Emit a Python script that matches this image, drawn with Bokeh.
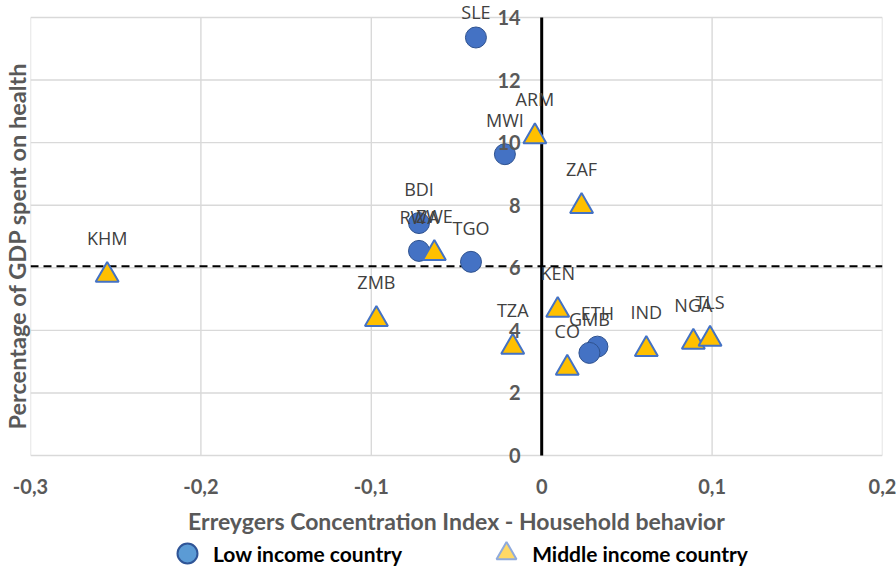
from bokeh.plotting import figure
from bokeh.layouts import column
from bokeh.models import (ColumnDataSource, LabelSet, Range1d, FixedTicker,
                          CustomJSTickFormatter, Legend, LegendItem, Title)
from bokeh.core.properties import value
from bokeh.transform import dodge
from bokeh.embed import file_html
from bokeh.resources import INLINE

# ---------------- data ----------------
low_countries = ["SLE", "MWI", "BDI", "RWA", "TGO", "ETH", "GMB"]
low_ci = [-0.0386, -0.0216, -0.072, -0.072, -0.0415, 0.0327, 0.028]
low_health = [13.36, 9.63, 7.43, 6.54, 6.19, 3.48, 3.28]

mid_countries = ["ARM", "ZAF", "ZWE", "KHM", "ZMB", "KEN", "TZA", "CO", "IND", "NGA", "TLS"]
mid_ci = [-0.004, 0.0234, -0.063, -0.255, -0.097, 0.0094, -0.017, 0.015, 0.0614, 0.089, 0.0988]
mid_health = [10.3, 8.07, 6.57, 5.87, 4.46, 4.75, 3.57, 2.9, 3.5, 3.73, 3.83]

health_reference = 6.05

x_ticks = [-0.3, -0.2, -0.1, 0.0, 0.1, 0.2]
y_ticks = [0, 2, 4, 6, 8, 10, 12, 14]
y_tick_labels = ["0", "2", "4", "6", "8", "10", "12", "14"]
x_title = "Erreygers Concentration Index - Household behavior"
y_title = "Percentage of GDP spent on health"
legend_labels = ["Low income country", "Middle income country"]

# ---------------- geometry ----------------
W = 896
H_MAIN, H_LEG = 537, 34
PLOT_TOP, PLOT_BOTTOM = 17, 456          # pixel rows of y = 14 and y = 0
FRAME_BOTTOM = 467                       # frame extends a little below y = 0
LEFT, RIGHT = 27, 14
ppu = (PLOT_BOTTOM - PLOT_TOP) / (y_ticks[-1] - y_ticks[0])
y_max = y_ticks[-1] + PLOT_TOP / ppu
y_min = y_ticks[0] - (FRAME_BOTTOM - PLOT_BOTTOM) / ppu
LABEL_OFF = 34
LABEL_MIN_Y = 12
TRI_SIZE = 23
# Bokeh's triangle is centred on its centroid, Excel's on its bounding box
tri_shift = -(TRI_SIZE / 2) * 3 ** 0.5 / 6 / ppu


def offsets(vals):
    # Excel keeps the data labels inside the chart area
    out = []
    for v in vals:
        sy = PLOT_TOP + (y_ticks[-1] - v) * ppu
        out.append(min(LABEL_OFF, sy - LABEL_MIN_Y))
    return out


GRID = "#D9D9D9"
TXT = "#595959"

p = figure(width=W, height=H_MAIN, output_backend="svg", toolbar_location=None,
           x_range=Range1d(x_ticks[0], x_ticks[-1]), y_range=Range1d(y_min, y_max),
           min_border_left=LEFT, min_border_right=RIGHT, min_border_top=0,
           min_border_bottom=H_MAIN - FRAME_BOTTOM)
p.background_fill_color = "white"
p.border_fill_color = "white"
p.outline_line_color = None
p.xgrid.visible = False
p.ygrid.visible = False
p.yaxis.visible = False

# x axis (tick labels + title)
p.xaxis.ticker = FixedTicker(ticks=x_ticks)
p.xaxis.formatter = CustomJSTickFormatter(
    code="return (Math.round(tick*10)/10).toString().replace('.', ',');")
p.xaxis.axis_line_color = None
p.xaxis.major_tick_line_color = None
p.xaxis.minor_tick_line_color = None
p.xaxis.major_tick_out = 0
p.xaxis.major_tick_in = 0
p.xaxis.major_label_standoff = 12
p.xaxis.major_label_text_font = "Lato"
p.xaxis.major_label_text_font_style = "bold"
p.xaxis.major_label_text_font_size = "20px"
p.xaxis.major_label_text_color = TXT
p.xaxis.axis_label = x_title
p.xaxis.axis_label_text_font = "Lato"
p.xaxis.axis_label_text_font_style = "bold"
p.xaxis.axis_label_text_font_size = "23px"
p.xaxis.axis_label_text_color = TXT
p.xaxis.axis_label_standoff = 10

# y axis title
p.add_layout(Title(text=y_title, align="left", offset=37, text_font="Lato",
                   text_font_style="bold", text_font_size="23.5px",
                   text_color=TXT, standoff=0), "left")

# gridlines
p.segment(x0=x_ticks, x1=x_ticks, y0=[y_ticks[0]] * len(x_ticks),
          y1=[y_ticks[-1]] * len(x_ticks), line_color=GRID, line_width=1.4)
p.segment(x0=[x_ticks[0]] * len(y_ticks), x1=[x_ticks[-1]] * len(y_ticks),
          y0=y_ticks, y1=y_ticks, line_color=GRID, line_width=1.4)

# vertical axis through x = 0 and average reference line
p.segment(x0=[0.0], x1=[0.0], y0=[y_ticks[0]], y1=[y_ticks[-1]],
          line_color="black", line_width=3)
p.segment(x0=[x_ticks[0]], x1=[x_ticks[-1]], y0=[health_reference],
          y1=[health_reference], line_color="black", line_width=2, line_dash="8 5")

# y tick labels at the crossing axis (x = 0)
ytick_src = ColumnDataSource(dict(x=[0.0] * len(y_ticks), y=y_ticks, t=y_tick_labels))
p.add_layout(LabelSet(x="x", y="y", text="t", source=ytick_src, x_offset=-21,
                      text_align="right", text_baseline="middle",
                      text_font=value("Lato"), text_font_style="bold",
                      text_font_size="20px", text_color=TXT))

low_src = ColumnDataSource(dict(x=low_ci, y=low_health, name=low_countries,
                                dy=offsets(low_health)))
mid_src = ColumnDataSource(dict(x=mid_ci, y=mid_health, name=mid_countries,
                                dy=offsets(mid_health)))

p.scatter("x", "y", source=low_src, marker="circle", size=21,
          fill_color="#4472C4", line_color="#2F528F", line_width=1)
p.scatter(x="x", y=dodge("y", tri_shift, range=p.y_range), source=mid_src,
          marker="triangle", size=TRI_SIZE,
          fill_color="#FFC000", line_color="#4472C4", line_width=2)

for src in (low_src, mid_src):
    p.add_layout(LabelSet(x="x", y="y", text="name", source=src, y_offset="dy",
                          text_align="center", text_baseline="middle",
                          text_font=value("Open Sans"), text_font_size="18px",
                          text_color="#404040"))

# ---------------- legend strip ----------------
pl = figure(width=W, height=H_LEG, output_backend="svg", toolbar_location=None,
            x_range=Range1d(0, 1), y_range=Range1d(0, 1),
            x_axis_type=None, y_axis_type=None,
            min_border_left=0, min_border_right=0, min_border_top=0, min_border_bottom=0)
pl.outline_line_color = None
pl.grid.visible = False
pl.background_fill_color = "white"
pl.border_fill_color = "white"
# legend-only renderers: their points fall outside this strip's ranges
leg_low = pl.scatter(x=low_ci, y=low_health, marker="circle", fill_color="#5B9BD5",
                     line_color="#2F5597", line_width=2)
leg_mid = pl.scatter(x=mid_ci, y=mid_health, marker="triangle", fill_color="#FFD966",
                     line_color="#8FAADC", line_width=2)
legend = Legend(items=[LegendItem(label=legend_labels[0], renderers=[leg_low]),
                       LegendItem(label=legend_labels[1], renderers=[leg_mid])],
                orientation="horizontal", location=(132, -7),
                glyph_width=50, glyph_height=50, label_standoff=1, spacing=79,
                padding=0, margin=0, border_line_color=None,
                background_fill_alpha=0,
                label_text_font="Lato", label_text_font_style="bold",
                label_text_font_size="21px", label_text_color="black")
pl.add_layout(legend, "center")

layout = column(p, pl, spacing=0)
open("out.html", "w").write(file_html(layout, INLINE))
